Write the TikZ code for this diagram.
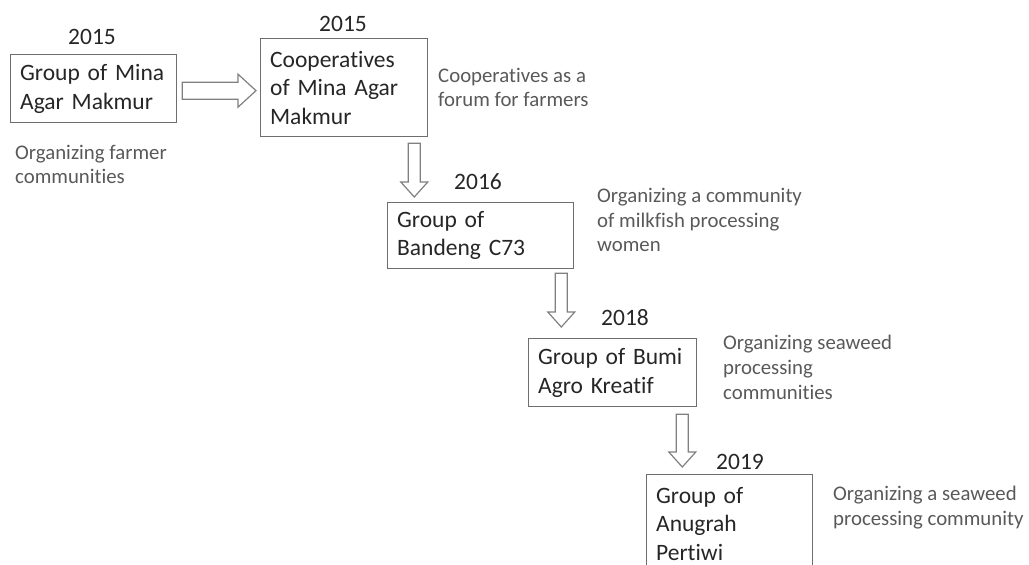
\documentclass[tikz,border=0pt]{standalone}
\usepackage{fontspec}
\setmainfont[Ligatures={NoCommon}]{Carlito}
\usetikzlibrary{calc}
\definecolor{boxline}{HTML}{6E6E6E}
\definecolor{arrowline}{HTML}{808080}
\definecolor{boxtext}{HTML}{262626}
\definecolor{notetext}{HTML}{595959}
\tikzset{
  stage/.style={draw=boxline, line width=1.3pt, anchor=north west, inner xsep=9.5pt, inner ysep=0pt,
    align=left, text=boxtext, font=\fontsize{23.5}{28.6}\selectfont},
  year/.style={text=boxtext, font=\fontsize{23.5}{28.6}\selectfont},
  note/.style={anchor=west, inner sep=0pt, align=left, text=notetext, font=\fontsize{20.8}{24.8}\selectfont},
  hollow/.style n args={3}{draw=arrowline, line width=1.2pt, line join=miter, to path={
    let \p1=(\tikztostart), \p2=(\tikztotarget), \p3=($(\p2)!#3!(\p1)$) in
    ($(\p1)!#1!90:(\p2)$) -- ($(\p3)!#1!90:(\p2)$) -- ($(\p3)!#2!90:(\p2)$) -- (\p2)
    -- ($(\p3)!#2!-90:(\p2)$) -- ($(\p3)!#1!-90:(\p2)$) -- ($(\p1)!#1!-90:(\p2)$) -- cycle}}
}
\begin{document}
\begin{tikzpicture}[x=1pt,y=-1pt]
\path[use as bounding box, clip] (0,0) rectangle (1029,565);
% stages
\node[stage, text width=147pt, minimum height=68pt] (b1) at (10,54) {Group of Mina\\Agar Makmur};
\node[stage, text width=148pt, minimum height=98pt] (b2) at (260,38) {Cooperatives\\of Mina Agar\\Makmur};
\node[stage, text width=167pt, minimum height=66pt] (b3) at (387,202) {Group of\\Bandeng C73};
\node[stage, text width=149pt, minimum height=68pt] (b4) at (528,338) {Group of Bumi\\Agro Kreatif};
\node[stage, text width=147pt, minimum height=98pt] (b5) at (646,474) {Group of\\Anugrah\\Pertiwi};
% years
\node[year] (y1) at (92,37) {2015};
\node[year] (y2) at (343,24) {2015};
\node[year] (y3) at (478,182) {2016};
\node[year] (y4) at (625,318) {2018};
\node[year] (y5) at (740,462) {2019};
% notes
\node[note] (n1) at (15,164.5) {Organizing farmer\\communities};
\node[note] (n2) at (438,87.5) {Cooperatives as a\\forum for farmers};
\node[note] (n3) at (597,220) {Organizing a community\\of milkfish processing\\women};
\node[note] (n4) at (723,367.5) {Organizing seaweed\\processing\\communities};
\node[note] (n5) at (833,507.5) {Organizing a seaweed\\processing community};
% arrows
\coordinate (s1) at ($(b1.east)+(5,2)$);
\coordinate (e1) at ($(b2.west |- s1)+(-4,0)$);
\coordinate (s2) at ($(b2.south east)+(-14,6)$);
\coordinate (e2) at ($(b3.north -| s2)+(0,-5)$);
\coordinate (s3) at ($(b3.south east)+(-13,4)$);
\coordinate (e3) at ($(b4.north -| s3)+(0,-11)$);
\coordinate (s4) at ($(b4.south east)+(-15,7)$);
\coordinate (e4) at ($(b5.north -| s4)+(0,-7)$);
\draw[hollow={8.5pt}{16.5pt}{18pt}] (s1) to (e1);
\draw[hollow={6pt}{13.5pt}{15pt}] (s2) to (e2);
\draw[hollow={6pt}{13.5pt}{15pt}] (s3) to (e3);
\draw[hollow={6pt}{13.5pt}{15pt}] (s4) to (e4);
\end{tikzpicture}
\end{document}
